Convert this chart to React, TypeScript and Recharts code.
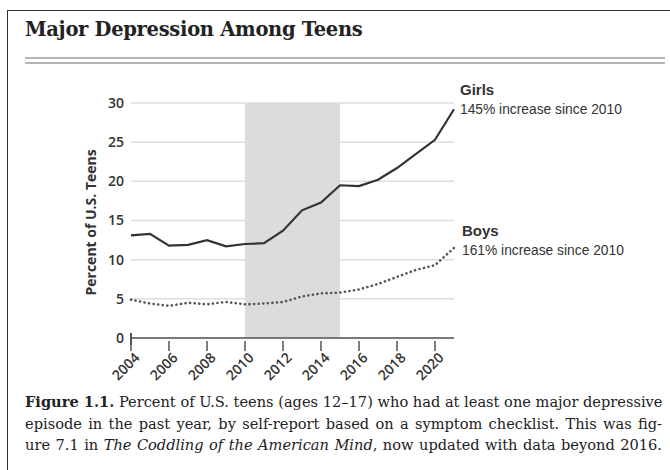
import React from "react";
import { LineChart, Line, XAxis, YAxis, CartesianGrid, ReferenceArea } from "recharts";

const years = [2004, 2005, 2006, 2007, 2008, 2009, 2010, 2011, 2012, 2013, 2014, 2015, 2016, 2017, 2018, 2019, 2020, 2021];
const girls = [13.1, 13.3, 11.8, 11.9, 12.5, 11.7, 12.0, 12.1, 13.7, 16.3, 17.3, 19.5, 19.4, 20.2, 21.7, 23.5, 25.3, 29.2];
const boys = [4.9, 4.4, 4.1, 4.5, 4.3, 4.6, 4.3, 4.4, 4.6, 5.3, 5.7, 5.8, 6.2, 6.9, 7.8, 8.7, 9.3, 11.5];
const xTicks = [2004, 2006, 2008, 2010, 2012, 2014, 2016, 2018, 2020];
const yTicks = [0, 5, 10, 15, 20, 25, 30];

const data = years.map((year, i) => ({ year, girls: girls[i], boys: boys[i] }));

const sans = "'Open Sans', sans-serif";
const arial = "'Liberation Sans', sans-serif";
const serif = "'DejaVu Serif', serif";

function XTick(props: any) {
  const { x, y, payload } = props;
  return (
    <g transform={`translate(${x},${y})`}>
      <line x1={0} x2={0} y1={-5} y2={5} stroke="#555" strokeWidth={1.5} />
      <text
        x={0}
        y={0}
        transform="translate(7,10) rotate(-45)"
        textAnchor="end"
        dominantBaseline="middle"
        fontFamily={sans}
        fontWeight={600}
        fontSize={14}
        fill="#333"
      >
        {payload.value}
      </text>
    </g>
  );
}

const captionLines = [
  [<b key="b">Figure 1.1.</b>, " Percent of U.S. teens (ages 12–17) who had at least one major depressive"],
  ["episode in the past year, by self-report based on a symptom checklist. This was fig-"],
  ["ure 7.1 in ", <i key="i">The Coddling of the American Mind</i>, ", now updated with data beyond 2016."],
];

export default function App() {
  return (
    <div style={{ position: "absolute", left: 0, top: 0, width: 670, height: 470, background: "#fff", overflow: "hidden" }}>
      <div style={{ position: "absolute", left: 7, top: 10, width: 700, height: 500, borderLeft: "1.5px solid #333", borderTop: "1.5px solid #333" }} />
      <div style={{ position: "absolute", left: 25, top: 18, fontFamily: serif, fontWeight: 700, fontSize: 19.5, color: "#222", letterSpacing: -0.3 }}>
        Major Depression Among Teens
      </div>
      <div style={{ position: "absolute", left: 25, top: 57, width: 640, height: 2, background: "#b5b5b5" }} />
      <div style={{ position: "absolute", left: 25, top: 62, width: 640, height: 2, background: "#b5b5b5" }} />

      <div style={{ position: "absolute", left: 0, top: 0 }}>
        <LineChart width={670} height={470} data={data} margin={{ top: 103, right: 216, bottom: 92, left: 81 }}>
          <CartesianGrid vertical={false} stroke="#dedede" strokeWidth={1.5} />
          <ReferenceArea x1={2010} x2={2015} y1={0} y2={30} fill="#dcdcdc" fillOpacity={1} stroke="none" />
          <XAxis
            dataKey="year"
            type="number"
            domain={[2004, 2021]}
            ticks={xTicks}
            interval={0}
            tick={<XTick />}
            tickLine={false}
            axisLine={{ stroke: "#555", strokeWidth: 1.5 }}
            height={40}
          />
          <YAxis
            domain={[0, 30]}
            ticks={yTicks}
            axisLine={false}
            tickLine={false}
            width={50}
            tickMargin={1}
            tick={{ fontFamily: sans, fontWeight: 600, fontSize: 14, fill: "#333" }}
            label={{
              value: "Percent of U.S. Teens",
              angle: -90,
              position: "insideLeft",
              dx: 5,
              dy: 75,
              style: { fontFamily: sans, fontWeight: 700, fontSize: 14, fill: "#333" },
            }}
          />
          <Line dataKey="girls" type="linear" stroke="#333" strokeWidth={2.2} dot={false} isAnimationActive={false} />
          <Line
            dataKey="boys"
            type="linear"
            stroke="#555"
            strokeWidth={2.6}
            strokeDasharray="0.1 4.5"
            strokeLinecap="round"
            dot={false}
            isAnimationActive={false}
          />
        </LineChart>
      </div>

      <div style={{ position: "absolute", left: 130, top: 333, width: 1.5, height: 12, background: "#555" }} />

      <div style={{ position: "absolute", left: 460, top: 81, fontFamily: arial, fontWeight: 700, fontSize: 15, color: "#333" }}>
        Girls
      </div>
      <div style={{ position: "absolute", left: 460, top: 102, fontFamily: arial, fontSize: 13.8, color: "#333" }}>
        145% increase since 2010
      </div>
      <div style={{ position: "absolute", left: 462, top: 222, fontFamily: arial, fontWeight: 700, fontSize: 15, color: "#333" }}>
        Boys
      </div>
      <div style={{ position: "absolute", left: 462, top: 243, fontFamily: arial, fontSize: 13.8, color: "#333" }}>
        161% increase since 2010
      </div>

      {captionLines.map((line, i) => (
        <div
          key={i}
          style={{
            position: "absolute",
            left: 25,
            top: 393 + i * 21.5,
            width: 637,
            fontFamily: serif,
            fontSize: 14.6,
            color: "#222",
            whiteSpace: "nowrap",
            textAlign: "justify",
            textAlignLast: "justify",
          }}
        >
          {line}
        </div>
      ))}
    </div>
  );
}
